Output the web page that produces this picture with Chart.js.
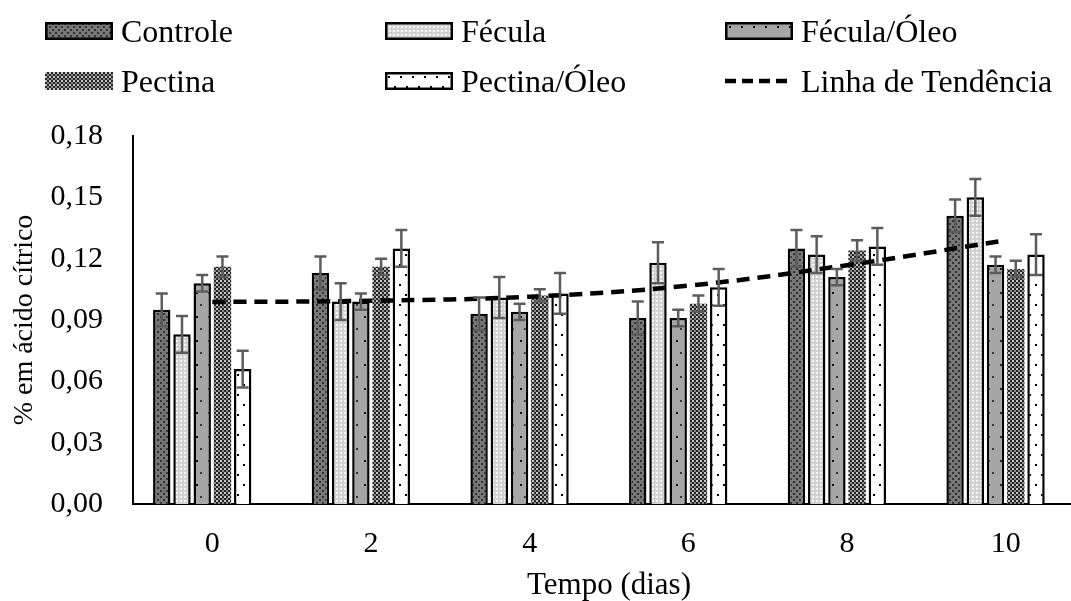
<!DOCTYPE html>
<html>
<head>
<meta charset="utf-8">
<script src="https://cdn.jsdelivr.net/npm/chart.js@4.4.1/dist/chart.umd.min.js"></script>
<style>
  html, body { margin: 0; padding: 0; background: #fff; overflow: hidden; }
  #wrap { position: relative; width: 1071px; height: 601px; overflow: hidden; }
  #chart { position: absolute; left: 0; top: 0; }
  .leg { position: absolute; display: flex; align-items: center; font-family: 'Liberation Serif', 'Times New Roman', serif; font-size: 32px; color: #000; white-space: nowrap; }
  .leg canvas { margin-right: 8px; }
</style>
</head>
<body>
<div id="wrap">
  <canvas id="chart" width="1085" height="601"></canvas>
</div>
<script>
// dados
const dias = ['0', '2', '4', '6', '8', '10'];

const controle    = [0.095, 0.113, 0.093, 0.091, 0.125, 0.141];
const fecula      = [0.083, 0.099, 0.101, 0.118, 0.122, 0.150];
const feculaOleo  = [0.108, 0.099, 0.094, 0.091, 0.111, 0.117];
const pectina     = [0.116, 0.116, 0.102, 0.098, 0.124, 0.115];
const pectinaOleo = [0.066, 0.125, 0.103, 0.106, 0.126, 0.122];

const errControle    = [0.008, 0.008, 0.008, 0.008, 0.009, 0.008];
const errFecula      = [0.009, 0.009, 0.010, 0.010, 0.009, 0.009];
const errFeculaOleo  = [0.004, 0.004, 0.004, 0.004, 0.004, 0.004];
const errPectina     = [0.005, 0.004, 0.003, 0.004, 0.005, 0.004];
const errPectinaOleo = [0.009, 0.009, 0.010, 0.009, 0.009, 0.010];

const tendencia = [0.0988, 0.0994, 0.1014, 0.1068, 0.1168, 0.1290];

const yTicks = [0, 0.03, 0.06, 0.09, 0.12, 0.15, 0.18];

// texturas das barras
function makePattern(w, h, bg, dots) {
    const c = document.createElement('canvas');
    c.width = w; c.height = h;
    const g = c.getContext('2d');
    g.fillStyle = bg;
    g.fillRect(0, 0, w, h);
    dots.forEach(d => {
        g.fillStyle = d[3];
        g.fillRect(d[0], d[1], d[2], d[2]);
    });
    return g.createPattern(c, 'repeat');
}

const patControle = makePattern(6, 6, '#777777', [[1, 1, 2, '#333'], [4, 4, 2, '#333']]);
const patFecula = makePattern(4, 4, '#d4d4d4', [[0, 0, 2, '#f4f4f4'], [2, 2, 1, '#bdbdbd']]);
const patFeculaOleo = makePattern(12, 24, '#a6a6a6', [[4, 4, 2, '#111'], [8, 16, 2, '#333']]);
const patPectina = makePattern(4, 4, '#262626', [[0, 0, 2, '#c4c4c4'], [2, 2, 2, '#8a8a8a']]);
const patPectinaOleo = makePattern(12, 20, '#ffffff', [[3, 4, 2, '#000'], [9, 14, 2, '#000']]);

const series = [
    { label: 'Controle', data: controle, errors: errControle, bg: patControle, border: 2.5 },
    { label: 'Fécula', data: fecula, errors: errFecula, bg: patFecula, border: 2.5 },
    { label: 'Fécula/Óleo', data: feculaOleo, errors: errFeculaOleo, bg: patFeculaOleo, border: 2.5 },
    { label: 'Pectina', data: pectina, errors: errPectina, bg: patPectina, border: 0 },
    { label: 'Pectina/Óleo', data: pectinaOleo, errors: errPectinaOleo, bg: patPectinaOleo, border: 2.5 }
];

const datasets = series.map(s => ({
    type: 'bar',
    label: s.label,
    data: s.data,
    errors: s.errors,
    backgroundColor: s.bg,
    borderColor: '#000',
    borderWidth: s.border,
    borderSkipped: 'bottom',
    barPercentage: 0.86,
    categoryPercentage: 0.765,
    order: 2
}));

// sexta série vazia (espaço reservado no grupo, como no Excel)
datasets.push({
    type: 'bar',
    label: '',
    data: [],
    barPercentage: 0.86,
    categoryPercentage: 0.765,
    order: 2
});

datasets.push({
    type: 'line',
    label: 'Linha de Tendência',
    data: tendencia,
    borderColor: '#000',
    borderWidth: 4.5,
    borderDash: [13, 8],
    pointRadius: 0,
    tension: 0.4,
    fill: false,
    order: 0
});

const errorBars = {
    id: 'errorBars',
    afterDatasetsDraw(chart) {
        const ctx = chart.ctx;
        const y = chart.scales.y;
        chart.data.datasets.forEach((ds, i) => {
            if (!ds.errors) return;
            const meta = chart.getDatasetMeta(i);
            meta.data.forEach((bar, j) => {
                const v = ds.data[j], e = ds.errors[j];
                const top = y.getPixelForValue(v + e);
                const bot = y.getPixelForValue(v - e);
                ctx.save();
                ctx.strokeStyle = '#5c5c5c';
                ctx.lineWidth = 2.5;
                ctx.beginPath();
                ctx.moveTo(bar.x, top); ctx.lineTo(bar.x, bot);
                ctx.moveTo(bar.x - 6, top); ctx.lineTo(bar.x + 6, top);
                ctx.moveTo(bar.x - 6, bot); ctx.lineTo(bar.x + 6, bot);
                ctx.stroke();
                ctx.restore();
            });
        });
    }
};

Chart.defaults.font.family = "'Liberation Serif', 'Times New Roman', serif";
Chart.defaults.color = '#000';

new Chart(document.getElementById('chart'), {
    data: { labels: dias, datasets: datasets },
    options: {
        responsive: false,
        animation: false,
        layout: { padding: { top: 136, left: 0, right: 0, bottom: 0 } },
        plugins: {
            legend: { display: false },
            tooltip: { enabled: false }
        },
        scales: {
            x: {
                grid: { display: false, drawTicks: false },
                border: { display: true, color: '#000', width: 2 },
                ticks: { font: { size: 30 }, padding: 22 },
                title: { display: true, text: 'Tempo (dias)', font: { size: 31 }, padding: { top: 0, bottom: -3 } },
                afterFit: s => { s.height = 97; }
            },
            y: {
                min: 0,
                max: 0.18,
                grid: { display: false, drawTicks: false },
                border: { display: true, color: '#000', width: 2 },
                afterBuildTicks: s => { s.ticks = yTicks.map(v => ({ value: v })); },
                ticks: {
                    font: { size: 30 },
                    padding: 30,
                    callback: v => v.toFixed(2).replace('.', ',')
                },
                title: { display: true, text: '% em ácido cítrico', font: { size: 28 }, padding: { top: 8, bottom: 0 } },
                afterFit: s => { s.width = 133; }
            }
        }
    },
    plugins: [errorBars]
});

// legenda em HTML (3 colunas x 2 linhas)
const legendItems = series.map(s => ({ label: s.label, bg: s.bg, border: s.border }));
legendItems.push({ label: 'Linha de Tendência', line: true });
const cols = [45, 385, 725];
const rows = [31, 81];
const wrap = document.getElementById('wrap');
legendItems.forEach((it, k) => {
    const div = document.createElement('div');
    div.className = 'leg';
    div.style.left = cols[k % 3] + 'px';
    div.style.top = (rows[Math.floor(k / 3)] - 20) + 'px';
    div.style.height = '40px';
    const sw = document.createElement('canvas');
    sw.width = 68; sw.height = 18;
    const g = sw.getContext('2d');
    if (it.line) {
        g.strokeStyle = '#000';
        g.lineWidth = 4.5;
        g.setLineDash([11, 6]);
        g.beginPath(); g.moveTo(0, 9); g.lineTo(68, 9); g.stroke();
    } else {
        g.fillStyle = it.bg;
        g.fillRect(0, 0, 68, 18);
        if (it.border) {
            g.strokeStyle = '#000';
            g.lineWidth = 2.5;
            g.strokeRect(1.25, 1.25, 65.5, 15.5);
        }
    }
    div.appendChild(sw);
    const t = document.createElement('span');
    t.textContent = it.label;
    div.appendChild(t);
    wrap.appendChild(div);
});
</script>
</body>
</html>
